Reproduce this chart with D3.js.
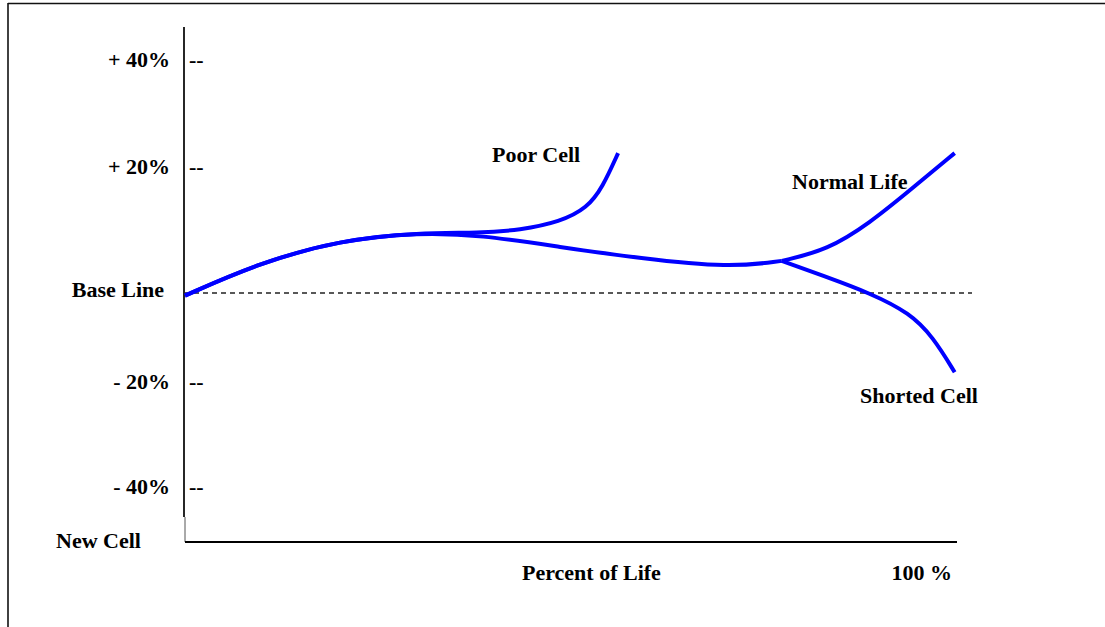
<!DOCTYPE html>
<html>
<head>
<meta charset="utf-8">
<script src="https://cdn.jsdelivr.net/npm/d3@7"></script>
<style>
  html, body { margin: 0; padding: 0; background: #fff; }
  svg { display: block; }
  text { font-family: "Liberation Serif", "Times New Roman", serif; font-weight: bold; font-size: 22px; fill: #000; }
</style>
</head>
<body>
<svg id="chart" width="1105" height="627"></svg>
<script>
// Cell voltage deviation (%) against percent of service life

// Shared trunk: new cell up to the point where normal and shorted cells diverge
const mainLife = [0, 9.7, 20.1, 30.4, 38.2, 48.6, 58.9, 70.6, 77.3];
const mainPct  = [-0.6, 4.8, 8.4, 9.6, 9.2, 7.3, 5.5, 4.0, 5.1];

// Poor cell branches upward early (leaves the trunk at 30.4 % of life)
const poorLife = [30.4, 38.2, 43.4, 48.6, 52.1, 54.1, 56.1];
const poorPct  = [9.6, 9.5, 10.0, 11.3, 13.5, 16.8, 22.6];

// Normal life rises toward end of life
const normalLife = [77.3, 83.2, 88.7, 93.9, 99.7];
const normalPct  = [5.1, 6.8, 11.1, 16.3, 22.6];

// Shorted cell falls below the base line
const shortedLife = [77.3, 83.2, 88.7, 93.9, 96.9, 99.7];
const shortedPct  = [5.1, 2.5, 0.0, -4.5, -9.9, -17.8];

// Vertical axis ticks (the 0 level is the base line)
const tickValues = [40, 20, -20, -40];
const tickLabels = ["+ 40%", "+ 20%", "- 20%", "- 40%"];
const yScaleStops = [-40, -20, 0, 20, 40];

const svg = d3.select("#chart");

const x = d3.scaleLinear().domain([0, 100]).range([185, 957]);
const y = d3.scaleLinear().domain(yScaleStops).range([487, 382, 293, 167, 60]);

// Frame
svg.append("line").attr("x1", 8).attr("y1", 3.5).attr("x2", 1105).attr("y2", 3.5)
  .attr("stroke", "#111").attr("stroke-width", 1.6);
svg.append("line").attr("x1", 8).attr("y1", 3).attr("x2", 8).attr("y2", 627)
  .attr("stroke", "#111").attr("stroke-width", 1.6);

// Y axis
svg.append("line").attr("x1", 184).attr("y1", 27).attr("x2", 184).attr("y2", 517)
  .attr("stroke", "#000").attr("stroke-width", 1.7);
svg.append("line").attr("x1", 185).attr("y1", 517).attr("x2", 185).attr("y2", 542)
  .attr("stroke", "#555").attr("stroke-width", 1);

// X axis
svg.append("line").attr("x1", x(0)).attr("y1", 542).attr("x2", x(100)).attr("y2", 542)
  .attr("stroke", "#000").attr("stroke-width", 2);

// Tick labels and dash marks
const ticks = svg.append("g");
tickValues.forEach((v, i) => {
  ticks.append("text").attr("x", 170).attr("y", y(v) + 7).attr("text-anchor", "end").text(tickLabels[i]);
  ticks.append("text").attr("x", 189).attr("y", y(v) + 7).text("--");
});

// Base line
svg.append("line").attr("x1", x(0)).attr("y1", y(0)).attr("x2", 972).attr("y2", y(0))
  .attr("stroke", "#222").attr("stroke-width", 1.3).attr("stroke-dasharray", "5,4");
svg.append("text").attr("x", 164).attr("y", y(0) + 4).attr("text-anchor", "end").text("Base Line");

// Curves
const line = d3.line().x(d => x(d[0])).y(d => y(d[1])).curve(d3.curveBasis);
const zip = (xs, ys) => xs.map((v, i) => [v, ys[i]]);

// The poor-cell path follows the trunk up to its branch point so the split is seamless
const branchIdx = mainLife.indexOf(poorLife[0]);
const poorPath = zip(mainLife, mainPct).slice(0, branchIdx).concat(zip(poorLife, poorPct));

const paths = [
  zip(mainLife, mainPct),
  poorPath,
  zip(normalLife, normalPct),
  zip(shortedLife, shortedPct)
];
paths.forEach(pts => {
  svg.append("path")
    .attr("d", line(pts))
    .attr("fill", "none")
    .attr("stroke", "#0000ff")
    .attr("stroke-width", 4)
    .attr("stroke-linecap", "butt");
});

// Series labels
svg.append("text").attr("x", 492).attr("y", 162).text("Poor Cell");
svg.append("text").attr("x", 792).attr("y", 189).text("Normal Life");
svg.append("text").attr("x", 860).attr("y", 403).text("Shorted Cell");

// Axis captions
svg.append("text").attr("x", 56).attr("y", 548).text("New Cell");
svg.append("text").attr("x", 522).attr("y", 580).text("Percent of Life");
svg.append("text").attr("x", 952).attr("y", 580).attr("text-anchor", "end").text("100 %");
</script>
</body>
</html>
